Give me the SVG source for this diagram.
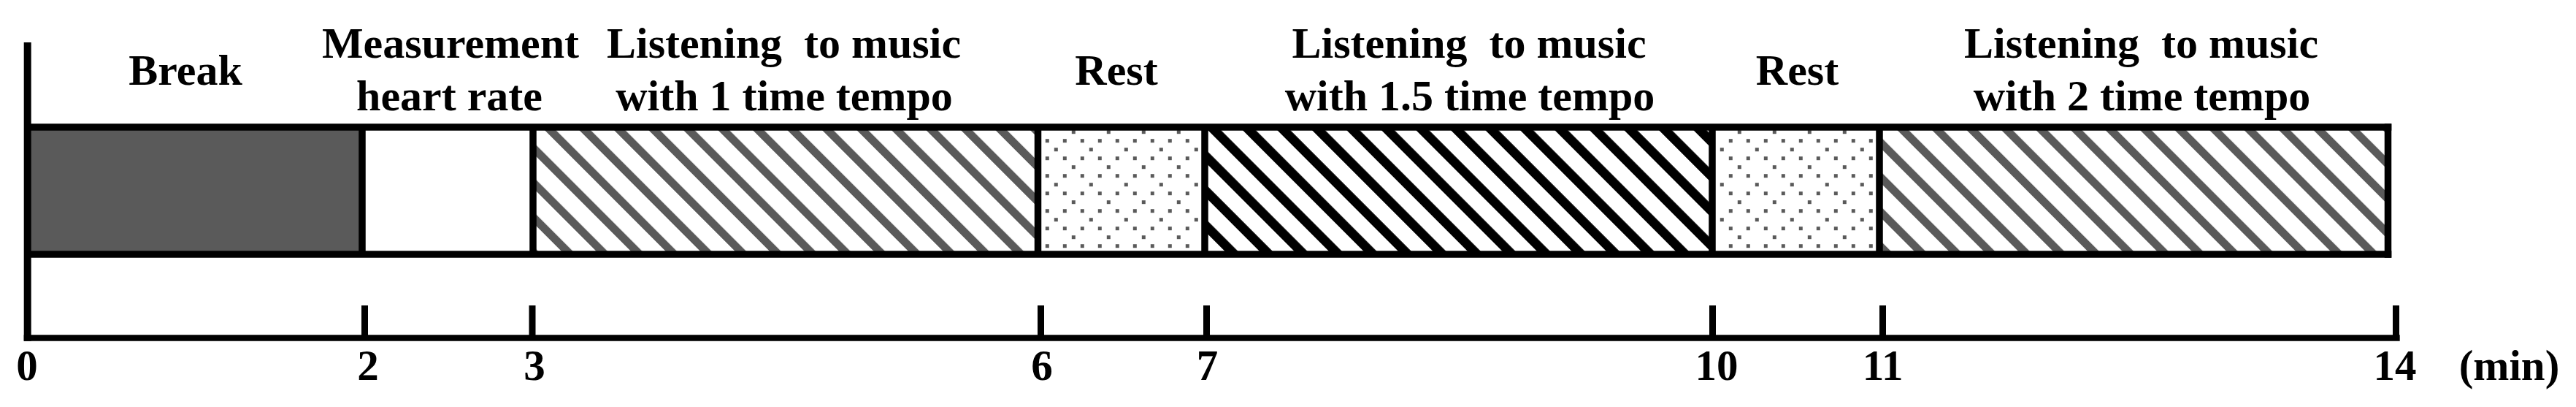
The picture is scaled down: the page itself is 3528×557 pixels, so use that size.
<svg xmlns="http://www.w3.org/2000/svg" width="3528" height="557" viewBox="0 0 3528 557">
  <style>
    .lbl { font-family: "Liberation Serif", "Times New Roman", serif; font-weight: bold; font-size: 60px; fill: #000; text-anchor: middle; white-space: pre; }
    .num { font-family: "Liberation Serif", "Times New Roman", serif; font-weight: bold; font-size: 59px; fill: #000; text-anchor: middle; }
    .ln { stroke: #000; stroke-width: 9.5; fill: none; }
    .tick { stroke: #000; stroke-width: 9; fill: none; }
  </style>
  <defs>
    <pattern id="hatchGray" patternUnits="userSpaceOnUse" x="31.96" y="0" width="33.59" height="100" patternTransform="rotate(-45)">
      <rect x="0" y="0" width="33.59" height="100" fill="#fff"/>
      <rect x="0" y="0" width="11" height="100" fill="#5a5a5a"/>
    </pattern>
    <pattern id="hatchBlack" patternUnits="userSpaceOnUse" x="2.5" y="0" width="33.59" height="100" patternTransform="rotate(-45)">
      <rect x="0" y="0" width="33.59" height="100" fill="#fff"/>
      <rect x="0" y="0" width="12.7" height="100" fill="#000"/>
    </pattern>
    <pattern id="dots" patternUnits="userSpaceOnUse" x="1431.8" y="190.2" width="48" height="48">
      <rect x="0" y="0" width="48" height="48" fill="#fff"/>
      <g fill="#5a5a5a">
        <rect x="0" y="0" width="5" height="5"/>
        <rect x="24" y="0" width="5" height="5"/>
        <rect x="0" y="24" width="5" height="5"/>
        <rect x="24" y="24" width="5" height="5"/>
        <rect x="12" y="12" width="5" height="5"/>
        <rect x="36" y="36" width="5" height="5"/>
      </g>
    </pattern>
  </defs>
  <rect width="3528" height="557" fill="#fff"/>

  <g id="seg-break">
    <rect x="42" y="178" width="450" height="166" fill="#5a5a5a"/>
    <text class="lbl" x="254" y="115.5">Break</text>
  </g>
  <g id="seg-measurement">
    <rect x="500" y="178" width="226" height="166" fill="#fff"/>
    <text class="lbl" x="617" y="79">Measurement</text>
    <text class="lbl" x="615.5" y="151">heart rate</text>
  </g>
  <g id="seg-music1">
    <rect x="734" y="178" width="684" height="166" fill="url(#hatchGray)"/>
    <text class="lbl" x="1073.5" y="79">Listening  to music</text>
    <text class="lbl" x="1074" y="151">with 1 time tempo</text>
  </g>
  <g id="seg-rest1">
    <rect x="1425" y="178" width="221" height="166" fill="url(#dots)"/>
    <text class="lbl" x="1529" y="115.5">Rest</text>
  </g>
  <g id="seg-music15">
    <rect x="1654" y="178" width="687" height="166" fill="url(#hatchBlack)"/>
    <text class="lbl" x="2012" y="79">Listening  to music</text>
    <text class="lbl" x="2013" y="151">with 1.5 time tempo</text>
  </g>
  <g id="seg-rest2">
    <rect x="2349" y="178" width="221" height="166" fill="url(#dots)"/>
    <text class="lbl" x="2461.5" y="115.5">Rest</text>
  </g>
  <g id="seg-music2">
    <rect x="2578" y="178" width="689" height="166" fill="url(#hatchGray)"/>
    <text class="lbl" x="2932.5" y="79">Listening  to music</text>
    <text class="lbl" x="2933.5" y="151">with 2 time tempo</text>
  </g>

  <g id="connectors">
    <!-- bar outline -->
    <line class="ln" x1="33" y1="174" x2="3275.3" y2="174"/>
    <line class="ln" x1="33" y1="348" x2="3275.3" y2="348"/>
    <line class="ln" x1="496" y1="174" x2="496" y2="348"/>
    <line class="ln" x1="730" y1="174" x2="730" y2="348"/>
    <line class="ln" x1="1421.5" y1="174" x2="1421.5" y2="348"/>
    <line class="ln" x1="1650" y1="174" x2="1650" y2="348"/>
    <line class="ln" x1="2345" y1="174" x2="2345" y2="348"/>
    <line class="ln" x1="2574" y1="174" x2="2574" y2="348"/>
    <line class="ln" x1="3270.5" y1="169.2" x2="3270.5" y2="352.8"/>
    <!-- axes -->
    <line x1="37.7" y1="58" x2="37.7" y2="466.7" stroke="#000" stroke-width="10"/>
    <line x1="32.7" y1="462.5" x2="3286.7" y2="462.5" stroke="#000" stroke-width="8.5"/>
    <line class="tick" x1="499.5" y1="418" x2="499.5" y2="462"/>
    <line class="tick" x1="729" y1="418" x2="729" y2="462"/>
    <line class="tick" x1="1425.5" y1="418" x2="1425.5" y2="462"/>
    <line class="tick" x1="1652.5" y1="418" x2="1652.5" y2="462"/>
    <line class="tick" x1="2345.5" y1="418" x2="2345.5" y2="462"/>
    <line class="tick" x1="2578.5" y1="418" x2="2578.5" y2="462"/>
    <line class="tick" x1="3281.5" y1="418" x2="3281.5" y2="462"/>
  </g>

  <g id="axis-labels">
    <text class="num" x="37" y="520">0</text>
    <text class="num" x="504" y="520">2</text>
    <text class="num" x="732" y="520">3</text>
    <text class="num" x="1427" y="520">6</text>
    <text class="num" x="1653.5" y="520">7</text>
    <text class="num" x="2351" y="520">10</text>
    <text class="num" x="2578.6" y="520">11</text>
    <text class="num" x="3280" y="520">14</text>
    <text class="num" x="3436.5" y="520">(min)</text>
  </g>
</svg>
